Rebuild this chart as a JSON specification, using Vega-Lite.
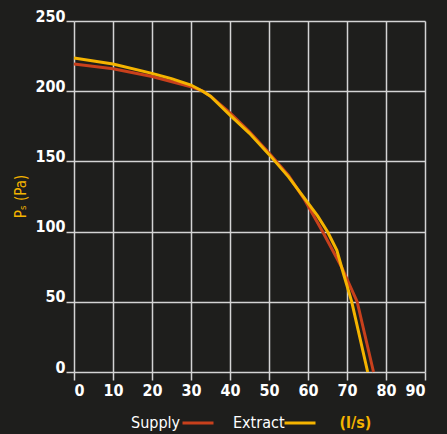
{
  "$schema": "https://vega.github.io/schema/vega-lite/v6.json",
  "width": 351,
  "height": 351,
  "autosize": {"type": "none"},
  "padding": {"left": 74, "top": 21, "right": 22, "bottom": 62},
  "background": "#1e1e1c",
  "config": {
    "view": {"stroke": null},
    "font": "DejaVu Sans Condensed, Liberation Sans Narrow, DejaVu Sans"
  },
  "data": {
    "values": [
      {"series": "Supply", "flow": 0, "ps": 219.4},
      {"series": "Supply", "flow": 10, "ps": 216},
      {"series": "Supply", "flow": 20, "ps": 210.5},
      {"series": "Supply", "flow": 30, "ps": 203.2},
      {"series": "Supply", "flow": 33, "ps": 200},
      {"series": "Supply", "flow": 35, "ps": 196.5},
      {"series": "Supply", "flow": 40, "ps": 184.5},
      {"series": "Supply", "flow": 45, "ps": 171},
      {"series": "Supply", "flow": 50, "ps": 156},
      {"series": "Supply", "flow": 55, "ps": 140},
      {"series": "Supply", "flow": 59.2, "ps": 122.3},
      {"series": "Supply", "flow": 63.8, "ps": 99.7},
      {"series": "Supply", "flow": 68.6, "ps": 74.8},
      {"series": "Supply", "flow": 71, "ps": 60},
      {"series": "Supply", "flow": 72.6, "ps": 50.1},
      {"series": "Supply", "flow": 76.8, "ps": 0},
      {"series": "Extract", "flow": 0, "ps": 223.6},
      {"series": "Extract", "flow": 10, "ps": 219.4},
      {"series": "Extract", "flow": 20, "ps": 212.7},
      {"series": "Extract", "flow": 25, "ps": 209},
      {"series": "Extract", "flow": 30, "ps": 204.4},
      {"series": "Extract", "flow": 33, "ps": 200},
      {"series": "Extract", "flow": 35, "ps": 196.5},
      {"series": "Extract", "flow": 40, "ps": 183},
      {"series": "Extract", "flow": 45, "ps": 170},
      {"series": "Extract", "flow": 50, "ps": 155},
      {"series": "Extract", "flow": 55, "ps": 139},
      {"series": "Extract", "flow": 59.5, "ps": 122.3},
      {"series": "Extract", "flow": 62.5, "ps": 111},
      {"series": "Extract", "flow": 65.05, "ps": 99.7},
      {"series": "Extract", "flow": 67.4, "ps": 86.7},
      {"series": "Extract", "flow": 69.1, "ps": 70},
      {"series": "Extract", "flow": 71.2, "ps": 50.1},
      {"series": "Extract", "flow": 75.3, "ps": 0}
    ]
  },
  "mark": {"type": "line", "strokeWidth": 3},
  "encoding": {
    "x": {
      "field": "flow",
      "type": "quantitative",
      "scale": {"domain": [0, 90], "nice": false},
      "axis": {
        "values": [0, 10, 20, 30, 40, 50, 60, 70, 80, 90],
        "title": "(l/s)",
        "titleColor": "#f5b400",
        "titleFontSize": 16,
        "titleFontWeight": "bold",
        "titleX": 265,
        "titleY": 50,
        "titleAlign": "left",
        "titleBaseline": "middle",
        "domain": false,
        "grid": true,
        "gridColor": "#d4d4d4",
        "gridWidth": 1.5,
        "tickColor": "#d4d4d4",
        "tickWidth": 1.5,
        "tickSize": 8,
        "labelColor": "#ffffff",
        "labelFontSize": 16,
        "labelFontWeight": "bold",
        "labelPadding": 2
      }
    },
    "y": {
      "field": "ps",
      "type": "quantitative",
      "scale": {"domain": [0, 250], "nice": false},
      "axis": {
        "values": [0, 50, 100, 150, 200, 250],
        "title": "Pₛ (Pa)",
        "titleColor": "#f5b400",
        "titleFontSize": 15,
        "titleFontWeight": "normal",
        "titleX": -54,
        "titleY": 175,
        "titleAngle": -90,
        "titleAlign": "center",
        "titleBaseline": "middle",
        "domain": false,
        "grid": true,
        "gridColor": "#d4d4d4",
        "gridWidth": 1.5,
        "tickColor": "#d4d4d4",
        "tickWidth": 1.5,
        "tickSize": 8,
        "labelColor": "#ffffff",
        "labelFontSize": 16,
        "labelFontWeight": "bold",
        "labelPadding": 1,
        "labelBaseline": "alphabetic"
      }
    },
    "color": {
      "field": "series",
      "type": "nominal",
      "scale": {"domain": ["Supply", "Extract"], "range": ["#c8401c", "#f5b400"]},
      "legend": {
        "title": null,
        "orient": "none",
        "direction": "horizontal",
        "legendX": 57,
        "legendY": 385,
        "symbolType": "stroke",
        "symbolSize": 961,
        "symbolStrokeWidth": 3,
        "labelColor": "#ffffff",
        "labelFontSize": 16,
        "columnPadding": 13,
        "encode": {
          "symbols": {"update": {"x": {"value": 67}}},
          "labels": {"update": {"x": {"value": 0}, "align": {"value": "left"}}}
        }
      }
    }
  }
}
